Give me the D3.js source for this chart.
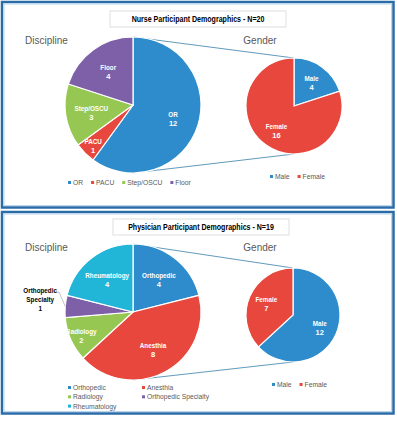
<!DOCTYPE html>
<html>
<head>
<meta charset="utf-8">
<script src="https://cdn.jsdelivr.net/npm/d3@7/dist/d3.min.js"></script>
<style>
body { margin: 0; background: #fff; }
text { font-family: "Liberation Sans", sans-serif; }
</style>
</head>
<body>
<script>
// data
var nurseDiscipline = ['OR', 'PACU', 'Step/OSCU', 'Floor'];
var nurseDisciplineValues = [12, 1, 3, 4];
var nurseGender = ['Male', 'Female'];
var nurseGenderValues = [4, 16];
var physDiscipline = ['Orthopedic', 'Anesthia', 'Radiology', 'Orthopedic Specialty', 'Rheumatology'];
var physDisciplineValues = [4, 8, 2, 1, 4];
var physGender = ['Male', 'Female'];
var physGenderValues = [12, 7];
var titles = ['Nurse Participant Demographics - N=20', 'Physician Participant Demographics - N=19'];

var blue = '#2e8ccc', red = '#e8473d', green = '#96c752', purple = '#7e60a8', cyan = '#21b5d7';
var nurseColor = d3.scaleOrdinal().domain(nurseDiscipline).range([blue, red, green, purple]);
var physColor = d3.scaleOrdinal().domain(physDiscipline).range([blue, red, green, purple, cyan]);
var genderColor = d3.scaleOrdinal().domain(['Male', 'Female']).range([blue, red]);

var svg = d3.select('body').append('svg').attr('width', 397).attr('height', 425);

var pie = d3.pie().sort(null).value(function(d) { return d.v; });

// squeeze text to look like a narrow (calibri-ish) face
function narrow(t, k) {
  var w = t.node().getComputedTextLength();
  t.attr('textLength', w * (k || 0.84)).attr('lengthAdjust', 'spacingAndGlyphs');
  return t;
}

function frame(y0, y1) {
  svg.append('rect').attr('x', 2).attr('y', y0).attr('width', 391.5).attr('height', y1 - y0)
    .attr('fill', '#fff').attr('stroke', '#2b6ca8').attr('stroke-width', 2.5);
  svg.append('rect').attr('x', 4).attr('y', y0 + 2).attr('width', 387.5).attr('height', y1 - y0 - 4)
    .attr('fill', 'none').attr('stroke', '#b9d5ee').attr('stroke-width', 1);
}

function titleBox(x, y, w, h, txt) {
  svg.append('rect').attr('x', x).attr('y', y).attr('width', w).attr('height', h)
    .attr('fill', '#fff').attr('stroke', '#d6d6d6').attr('stroke-width', 0.8);
  narrow(svg.append('text').attr('x', x + w / 2).attr('y', y + h / 2 + 3)
    .attr('text-anchor', 'middle').attr('font-size', 8.5).attr('font-weight', 'bold')
    .attr('fill', '#000').text(txt), 0.83);
}

function heading(x, y, txt, anchor) {
  svg.append('text').attr('x', x).attr('y', y)
    .attr('text-anchor', anchor || 'start').attr('font-size', 10).attr('fill', '#595959').text(txt);
}

function drawPie(names, values, color, cx, cy, r, outside) {
  var data = names.map(function(n, i) { return { name: n, v: values[i] }; });
  var total = d3.sum(values);
  var arcs = pie(data);
  var g = svg.append('g').attr('transform', 'translate(' + cx + ',' + cy + ')');
  var arc = d3.arc().innerRadius(0).outerRadius(r);
  g.selectAll('path').data(arcs).enter().append('path')
    .attr('d', arc).attr('fill', function(d) { return color(d.data.name); })
    .attr('stroke', '#fff').attr('stroke-width', 1.2);

  arcs.forEach(function(d) {
    var share = d.data.v / total;
    var mid = (d.startAngle + d.endAngle) / 2;
    if (outside && d.data.name === outside) {
      var lr = r * 1.37;
      var lx = Math.sin(mid) * lr, ly = -Math.cos(mid) * lr - 5;
      var ex = Math.sin(mid) * r, ey = -Math.cos(mid) * r;
      g.append('path').attr('d', 'M' + (lx + 16) + ',' + (ly - 7) + 'L' + (lx + 19) + ',' + (ly - 7) + 'L' + ex + ',' + ey)
        .attr('fill', 'none').attr('stroke', '#a6a6a6').attr('stroke-width', 0.7);
      var lines = d.data.name.split(' ').concat([String(d.data.v)]);
      lines.forEach(function(t, i) {
        narrow(g.append('text').attr('x', lx).attr('y', ly - 6 + i * 9)
          .attr('text-anchor', 'middle').attr('font-size', 7.5).attr('font-weight', 'bold')
          .attr('fill', '#000').text(t));
      });
      return;
    }
    var k = share < 0.12 ? 0.83 : 0.62;
    var x = Math.sin(mid) * r * k, y = -Math.cos(mid) * r * k;
    narrow(g.append('text').attr('x', x).attr('y', y - 1)
      .attr('text-anchor', 'middle').attr('font-size', 7.5).attr('font-weight', 'bold')
      .attr('fill', '#fff').text(d.data.name));
    g.append('text').attr('x', x).attr('y', y + 8)
      .attr('text-anchor', 'middle').attr('font-size', 7.5).attr('font-weight', 'bold')
      .attr('fill', '#fff').text(d.data.v);
  });
}

function connectors(a, b) {
  svg.append('line').attr('x1', a.cx).attr('y1', a.cy - a.r).attr('x2', b.cx).attr('y2', b.cy - b.r)
    .attr('stroke', '#4f8fb3').attr('stroke-width', 0.9);
  svg.append('line').attr('x1', a.cx).attr('y1', a.cy + a.r).attr('x2', b.cx).attr('y2', b.cy + b.r)
    .attr('stroke', '#4f8fb3').attr('stroke-width', 0.9);
}

function legendRow(names, color, x, y) {
  var cur = x;
  names.forEach(function(n) {
    svg.append('rect').attr('x', cur).attr('y', y - 4).attr('width', 3).attr('height', 3).attr('fill', color(n));
    var t = narrow(svg.append('text').attr('x', cur + 5).attr('y', y).attr('font-size', 8).attr('fill', '#595959').text(n));
    cur += 5 + +t.attr('textLength') + 8;
  });
}

function legendGrid(names, color, xs, y, step) {
  names.forEach(function(n, i) {
    var x = xs[i % xs.length], yy = y + Math.floor(i / xs.length) * step;
    svg.append('rect').attr('x', x).attr('y', yy - 4).attr('width', 3).attr('height', 3).attr('fill', color(n));
    narrow(svg.append('text').attr('x', x + 5).attr('y', yy).attr('font-size', 8).attr('fill', '#595959').text(n));
  });
}

// nurse panel
frame(2, 207.5);
titleBox(110, 11, 176, 16, titles[0]);
heading(25, 44, 'Discipline');
heading(260, 44, 'Gender', 'middle');
var nd = { cx: 133, cy: 105, r: 68 }, ng = { cx: 294, cy: 106, r: 48 };
connectors(nd, ng);
drawPie(nurseDiscipline, nurseDisciplineValues, nurseColor, nd.cx, nd.cy, nd.r);
drawPie(nurseGender, nurseGenderValues, genderColor, ng.cx, ng.cy, ng.r);
legendRow(nurseDiscipline, nurseColor, 68, 185);
legendRow(nurseGender, genderColor, 270, 179);

// physician panel
frame(212, 413.5);
titleBox(113, 219, 176, 16, titles[1]);
heading(25, 251, 'Discipline');
heading(260, 251, 'Gender', 'middle');
var pd = { cx: 133, cy: 312, r: 68 }, pg = { cx: 293, cy: 315, r: 47 };
connectors(pd, pg);
drawPie(physDiscipline, physDisciplineValues, physColor, pd.cx, pd.cy, pd.r, 'Orthopedic Specialty');
drawPie(physGender, physGenderValues, genderColor, pg.cx, pg.cy, pg.r);
legendGrid(physDiscipline, physColor, [68, 142], 390, 9.3);
legendRow(physGender, genderColor, 272, 387);
</script>
</body>
</html>
